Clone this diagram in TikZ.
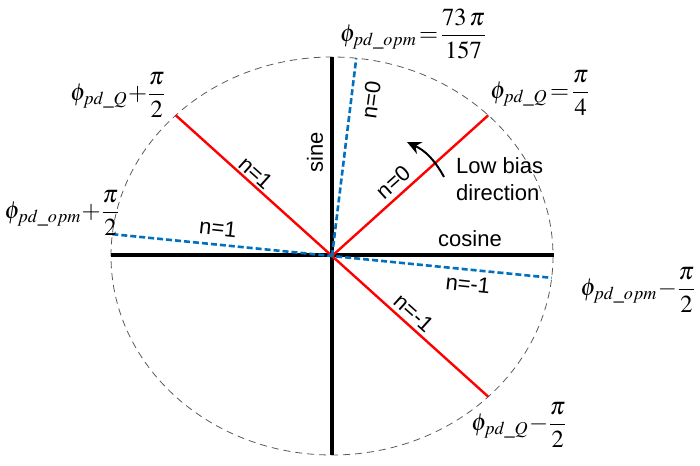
\documentclass[tikz,border=0pt]{standalone}
\usepackage{amsmath}
\usepackage{mathptmx}
\usepackage[no-math]{fontspec}
\setmainfont{Liberation Sans}
\usetikzlibrary{calc,positioning,arrows.meta,math}

\definecolor{opmblue}{RGB}{0,112,192}
\definecolor{ringgray}{RGB}{90,90,90}

\tikzset{
  axisline/.style={line width=3.2pt,black},
  qline/.style={line width=2.4pt,red},
  opmline/.style={line width=2.6pt,opmblue,dash pattern=on 6pt off 3pt},
  unitring/.style={line width=0.8pt,ringgray,dash pattern=on 7pt off 5pt},
  nlabel/.style={font=\fontsize{22}{27}\selectfont,inner sep=1pt},
  phaselabel/.style={font=\fontsize{24.5}{30}\selectfont,inner sep=0pt},
}

\begin{document}
\begin{tikzpicture}[x=1pt,y=-1pt]
				 %\draw[help lines,step=10] (0,0) grid (700,465); %help grid
				 \useasboundingbox (0,0) rectangle (700,465);
				 \tikzmath{
								\rx = 221;
								\ry = 199;
								\aopm = 83.7;
				 }
				 \coordinate (O) at (332,256);
				 \coordinate (W) at (332-\rx,255);
				 \coordinate (E) at (332+\rx+1,255);
				 \coordinate (N) at (332,256-\ry);
				 \coordinate (S) at (332,256+\ry);
				 % ring
				 \draw[unitring] (O) ellipse [x radius=\rx, y radius=\ry];
				 % axes
				 \draw[axisline] (W) -- (E);
				 \draw[axisline] (N) -- (S);
				 % quadrature points
				 \coordinate (Q0) at ({332+\rx*cos(45)},{256-\ry*sin(45)});
				 \coordinate (Q1) at ({332+\rx*cos(135)},{256-\ry*sin(135)});
				 \coordinate (Qm) at ({332+\rx*cos(-45)},{256-\ry*sin(-45)});
				 \draw[qline] (O) -- (Q0);
				 \draw[qline] (Q1) -- (Qm);
				 % optimum points
				 \coordinate (P0) at ({332+\rx*cos(\aopm)},{256-\ry*sin(\aopm)});
				 \coordinate (P1) at ({332+\rx*cos(\aopm+90)},{256-\ry*sin(\aopm+90)});
				 \coordinate (Pm) at ({332+\rx*cos(\aopm-90)},{256-\ry*sin(\aopm-90)});
				 \draw[opmline] (O) -- (P0);
				 \draw[opmline] (P1) -- (O) -- (Pm);
				 % axis names
				 \node[nlabel,rotate=90] (sine) at (315,152) {sine};
				 \node[nlabel] (cosine) at (470,239) {cosine};
				 % orders
				 \node[nlabel,rotate=82.3] (pn0) at (371,100) {n=0};
				 \node[nlabel,rotate=-6] (pn1) at (218,228) {n=1};
				 \node[nlabel,rotate=-6] (pnm) at (468,284) {n=-1};
				 \node[nlabel,rotate=41.9] (qn0) at (393,182) {n=0};
				 \node[nlabel,rotate=-41.9] (qn1) at (256,173) {n=1};
				 \node[nlabel,rotate=-41.9] (qnm) at (414,313) {n=-1};
				 % bias arrow
				 \coordinate (bt) at (444,177);
				 \coordinate (bh) at (407,142);
				 \draw[line width=2pt,-{Stealth[length=14pt,width=13pt]}] (bt) to[bend right=18] (bh);
				 \node[nlabel,align=left,anchor=west] (lowbias) at (455,179) {Low bias\\direction};
				 % phase values
				 \node[phaselabel] (opmlab) at (413,34) {$\phi_{pd\_opm}\!=\!\dfrac{73\,\pi}{157}$};
				 \node[phaselabel] (qlab) at (540,93) {$\phi_{pd\_Q}\!=\!\dfrac{\pi}{4}$};
				 \node[phaselabel] (q1lab) at (118,95) {$\phi_{pd\_Q}\!+\!\dfrac{\pi}{2}$};
				 \node[phaselabel] (p1lab) at (62,213) {$\phi_{pd\_opm}\!+\!\dfrac{\pi}{2}$};
				 \node[phaselabel] (pmlab) at (638,290) {$\phi_{pd\_opm}\!-\!\dfrac{\pi}{2}$};
				 \node[phaselabel] (qmlab) at (519,425) {$\phi_{pd\_Q}\!-\!\dfrac{\pi}{2}$};
\end{tikzpicture}
\end{document}
